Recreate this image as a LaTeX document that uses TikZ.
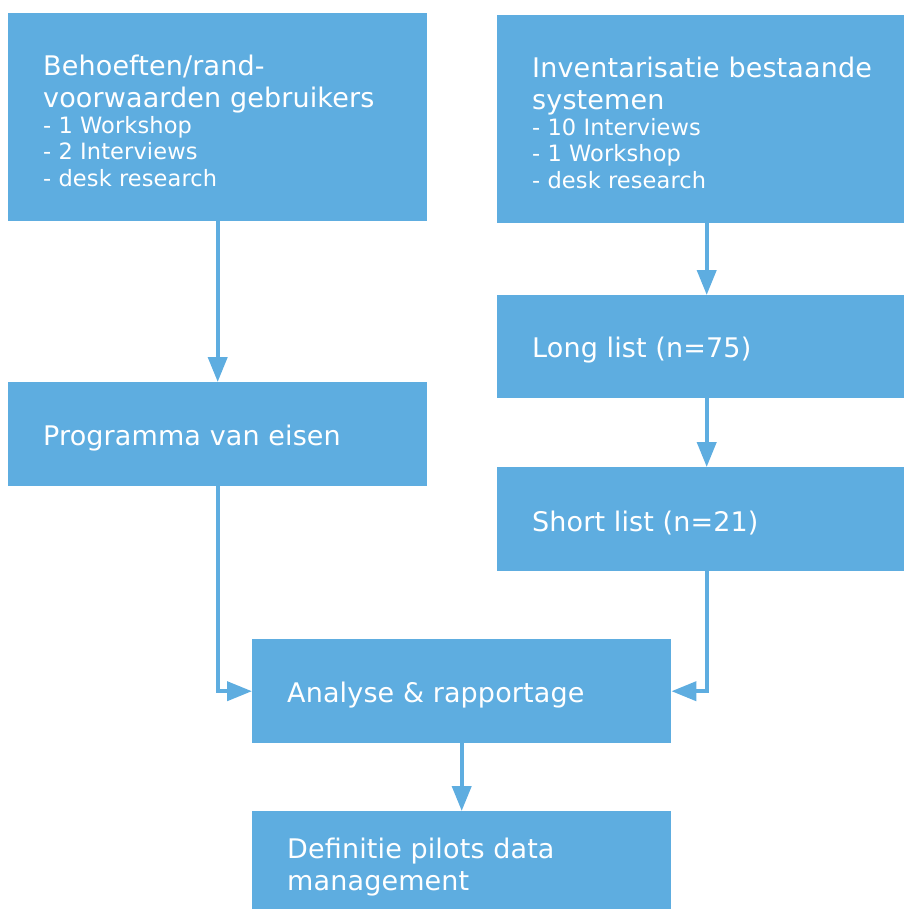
\documentclass[tikz,border=0pt]{standalone}
\usepackage{fontspec}
\setmainfont[LetterSpace=0.5]{DejaVu Sans}
\usetikzlibrary{arrows.meta}
\definecolor{boxblue}{RGB}{94,173,224}
\tikzset{
  box/.style={fill=boxblue, draw=none, text=white, anchor=north west,
    minimum width=419pt, inner xsep=35pt, inner ysep=0pt},
  tall/.style={minimum height=208pt},
  short/.style={minimum height=104pt},
  arr/.style={draw=boxblue, line width=4pt,
    -{Triangle[length=25pt,width=19pt]}}
}
\newcommand{\bigf}{\fontsize{27}{32}\selectfont}
\newcommand{\smallf}{\fontsize{22.5}{26.3}\selectfont}
\newcommand{\txt}[1]{\raisebox{-3.5pt}[\height][\depth]{\begin{minipage}{349pt}\raggedright\bigf #1\end{minipage}}}
\newcommand{\ttl}[2]{\txt{#1\par\smallf #2}}
\begin{document}
\begin{tikzpicture}[x=1pt,y=-1pt]
\useasboundingbox (0,0) rectangle (903,909);
\node[box,tall] (A) at (8,13) {\ttl{Behoeften/rand-\\voorwaarden gebruikers}{- 1 Workshop\\- 2 Interviews\\- desk research}};
\node[box,tall] (B) at (497,15) {\ttl{Inventarisatie bestaande\\systemen}{- 10 Interviews\\- 1 Workshop\\- desk research}};
\node[box,short,minimum height=103pt] (C) at (497,295) {\txt{Long list (n=75)}};
\node[box,short] (D) at (497,467) {\txt{Short list (n=21)}};
\node[box,short] (E) at (8,382) {\txt{Programma van eisen}};
\node[box,short] (F) at (252,639) {\txt{Analyse \& rapportage}};
\node[box,short] (G) at (252,811) {\txt{Definitie pilots data\\management}};
\draw[arr] (A) -- (E);
\draw[arr] (B) -- (C);
\draw[arr] (C) -- (D);
\draw[arr] (E.south) |- (F.west);
\draw[arr] (D.south) |- (F.east);
\draw[arr] (F) -- (G);
\end{tikzpicture}
\end{document}
